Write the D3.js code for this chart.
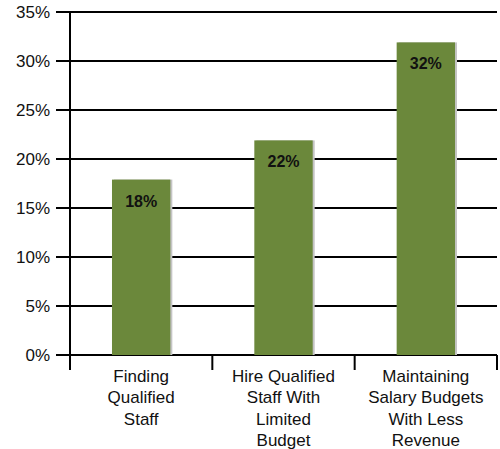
<!DOCTYPE html>
<html>
<head>
<meta charset="utf-8">
<script src="https://cdn.jsdelivr.net/npm/d3@7"></script>
<style>
    body { margin: 0; background: #fff; }
    svg text { font-family: "Liberation Sans", Arial, sans-serif; }
</style>
</head>
<body>
<svg id="chart"></svg>
<script>
// data
const categories = [
    ["Finding", "Qualified", "Staff"],
    ["Hire Qualified", "Staff With", "Limited", "Budget"],
    ["Maintaining", "Salary Budgets", "With Less", "Revenue"]
];
const values = [18, 22, 32];
const yTicks = [0, 5, 10, 15, 20, 25, 30, 35];

const margin = { top: 12, bottom: 94, right: 3, left: 70 };
const containerWidth = 500, containerHeight = 449;
const width = containerWidth - margin.left - margin.right;
const height = containerHeight - margin.top - margin.bottom;

const svg = d3.select('#chart')
    .attr('width', containerWidth)
    .attr('height', containerHeight);

const chart = svg.append('g')
    .attr('transform', `translate(${margin.left},${margin.top})`);

const xScale = d3.scaleBand()
    .domain(d3.range(values.length))
    .range([0, width])
    .paddingInner(0.59)
    .paddingOuter(0.295);

const yScale = d3.scaleLinear()
    .domain([0, 35])
    .range([height, 0]);

// horizontal grid lines, sticking out left of the axis like tick marks
chart.selectAll('.grid')
    .data(yTicks)
    .enter()
    .append('line')
    .attr('class', 'grid')
    .attr('x1', -14)
    .attr('x2', width)
    .attr('y1', d => yScale(d))
    .attr('y2', d => yScale(d))
    .attr('stroke', '#000')
    .attr('stroke-width', 2);

// y axis labels
const yAxis = d3.axisLeft(yScale)
    .tickValues(yTicks)
    .tickSize(0)
    .tickPadding(20)
    .tickFormat(d => d + '%');

const yAxisG = chart.append('g')
    .attr('class', 'axis y-axis')
    .call(yAxis);
yAxisG.select('.domain').remove();
yAxisG.selectAll('text')
    .attr('font-size', 17)
    .attr('font-family', '"Liberation Sans", Arial, sans-serif')
    .attr('fill', '#111');

// bars with a thin grey shadow on the right
const barG = chart.selectAll('.bar')
    .data(values)
    .enter()
    .append('g')
    .attr('class', 'bar');

barG.append('rect')
    .attr('x', (d, i) => xScale(i) + 2)
    .attr('y', d => yScale(d) + 1)
    .attr('width', xScale.bandwidth())
    .attr('height', d => height - yScale(d) - 1)
    .attr('fill', '#c4c4c4');

barG.append('rect')
    .attr('x', (d, i) => xScale(i))
    .attr('y', d => yScale(d) + 1)
    .attr('width', xScale.bandwidth())
    .attr('height', d => height - yScale(d) - 1)
    .attr('fill', '#6b883b');

barG.append('text')
    .attr('x', (d, i) => xScale(i) + xScale.bandwidth() / 2)
    .attr('y', d => yScale(d) + 28)
    .attr('text-anchor', 'middle')
    .attr('font-size', 16)
    .attr('font-weight', 'bold')
    .attr('fill', '#111')
    .text(d => d + '%');

// left axis line, running a bit below zero
chart.append('line')
    .attr('x1', 0).attr('x2', 0)
    .attr('y1', 0).attr('y2', height + 15)
    .attr('stroke', '#000')
    .attr('stroke-width', 2);

// category separators below the baseline
const step = xScale.step();
chart.selectAll('.sep')
    .data(d3.range(1, values.length + 1))
    .enter()
    .append('line')
    .attr('class', 'sep')
    .attr('x1', d => d * step)
    .attr('x2', d => d * step)
    .attr('y1', height)
    .attr('y2', height + 15)
    .attr('stroke', '#000')
    .attr('stroke-width', 2);

// category labels
const labelG = chart.selectAll('.cat')
    .data(categories)
    .enter()
    .append('text')
    .attr('class', 'cat')
    .attr('text-anchor', 'middle')
    .attr('font-size', 17)
    .attr('fill', '#111')
    .attr('transform', (d, i) => `translate(${xScale(i) + xScale.bandwidth() / 2},${height + 27})`);

labelG.selectAll('tspan')
    .data(d => d)
    .enter()
    .append('tspan')
    .attr('x', 0)
    .attr('y', (d, j) => j * 21.3)
    .text(d => d);
</script>
</body>
</html>
